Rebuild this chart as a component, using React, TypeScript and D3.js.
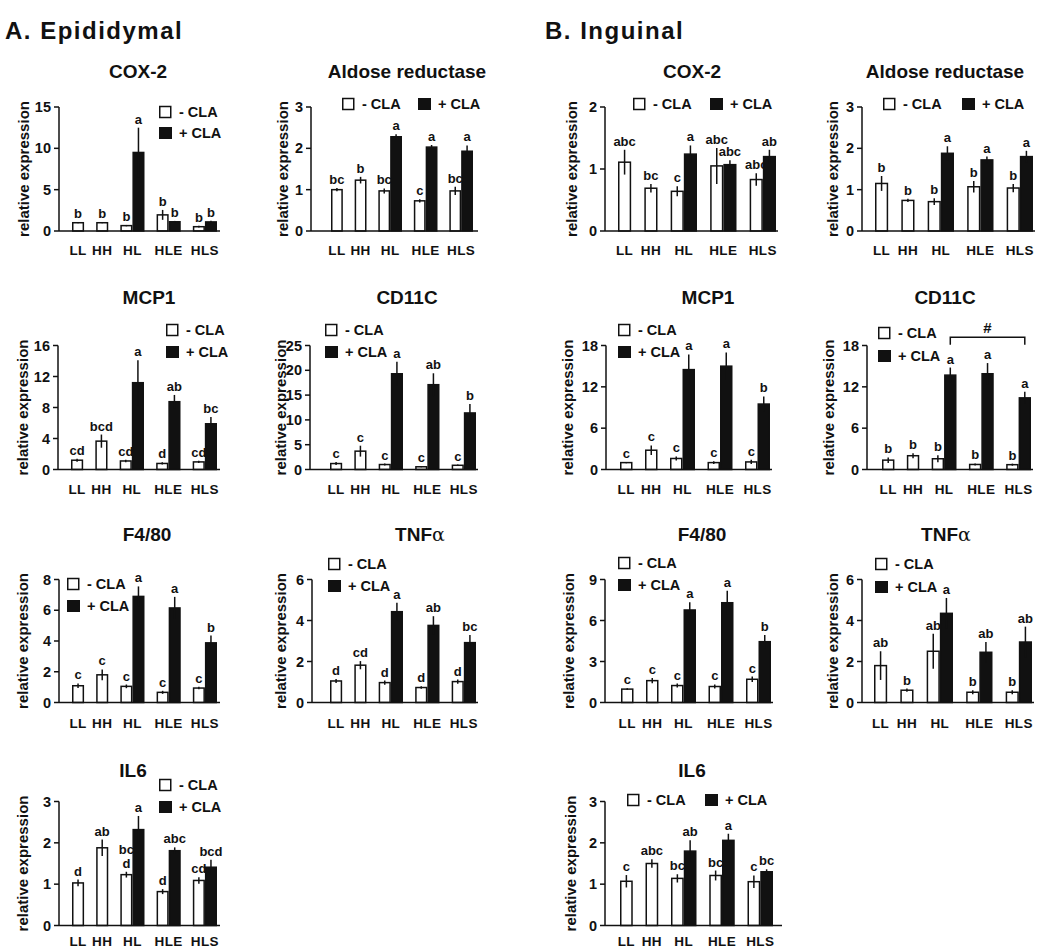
import React from "react";
import * as d3 from "d3";

// ---------------- DATA ----------------
const GROUPS = ["LL", "HH", "HL", "HLE", "HLS"];
const SLOTS = ["LL-", "g1", "HH-", "g2", "HL-", "HL+", "g3", "HLE-", "HLE+", "g4", "HLS-", "HLS+"];
const LEGEND_LABELS = ["- CLA", "+ CLA"];
const Y_LABEL = "relative expression";

// A. Epididymal
const epiCOX2_minus = [1.0, 1.0, 0.65, 1.95, 0.52];
const epiCOX2_minusErr = [0.06, 0.06, 0.08, 0.6, 0.1];
const epiCOX2_plus = [null, null, 9.5, 1.12, 1.1];
const epiCOX2_plusErr = [0, 0, 3.0, 0.1, 0.15];
const epiCOX2_letters = ["b", "b", "b", "b", "b"];
const epiCOX2_plusLetters = ["", "", "a", "b", "b"];
const epiCOX2_ticks = [0, 5, 10, 15];

const epiAR_minus = [1.0, 1.23, 0.97, 0.73, 0.97];
const epiAR_minusErr = [0.04, 0.08, 0.06, 0.04, 0.1];
const epiAR_plus = [null, null, 2.28, 2.03, 1.93];
const epiAR_plusErr = [0, 0, 0.06, 0.05, 0.14];
const epiAR_letters = ["bc", "b", "bc", "c", "bc"];
const epiAR_plusLetters = ["", "", "a", "a", "a"];
const epiAR_ticks = [0, 1, 2, 3];

const epiMCP1_minus = [1.2, 3.66, 1.1, 0.78, 0.98];
const epiMCP1_minusErr = [0.2, 0.85, 0.15, 0.15, 0.15];
const epiMCP1_plus = [null, null, 11.2, 8.75, 5.9];
const epiMCP1_plusErr = [0, 0, 2.9, 0.87, 0.86];
const epiMCP1_letters = ["cd", "bcd", "cd", "d", "cd"];
const epiMCP1_plusLetters = ["", "", "a", "ab", "bc"];
const epiMCP1_ticks = [0, 4, 8, 12, 16];

const epiCD11C_minus = [1.2, 3.7, 1.0, 0.55, 0.85];
const epiCD11C_minusErr = [0.3, 1.1, 0.2, 0.1, 0.15];
const epiCD11C_plus = [null, null, 19.3, 17.1, 11.4];
const epiCD11C_plusErr = [0, 0, 2.4, 2.3, 1.8];
const epiCD11C_letters = ["c", "c", "c", "c", "c"];
const epiCD11C_plusLetters = ["", "", "a", "ab", "b"];
const epiCD11C_ticks = [0, 5, 10, 15, 20, 25];

const epiF480_minus = [1.09, 1.8, 1.05, 0.66, 0.94];
const epiF480_minusErr = [0.15, 0.35, 0.12, 0.1, 0.08];
const epiF480_plus = [null, null, 6.9, 6.15, 3.88];
const epiF480_plusErr = [0, 0, 0.65, 0.72, 0.47];
const epiF480_letters = ["c", "c", "c", "c", "c"];
const epiF480_plusLetters = ["", "", "a", "a", "b"];
const epiF480_ticks = [0, 2, 4, 6, 8];

const epiTNF_minus = [1.05, 1.82, 0.97, 0.73, 1.02];
const epiTNF_minusErr = [0.1, 0.2, 0.1, 0.06, 0.1];
const epiTNF_plus = [null, null, 4.43, 3.76, 2.92];
const epiTNF_plusErr = [0, 0, 0.44, 0.45, 0.37];
const epiTNF_letters = ["d", "cd", "d", "d", "d"];
const epiTNF_plusLetters = ["", "", "a", "ab", "bc"];
const epiTNF_ticks = [0, 2, 4, 6];

const epiIL6_minus = [1.03, 1.88, 1.23, 0.82, 1.09];
const epiIL6_minusErr = [0.08, 0.2, 0.07, 0.06, 0.08];
const epiIL6_plus = [null, null, 2.32, 1.81, 1.41];
const epiIL6_plusErr = [0, 0, 0.33, 0.08, 0.18];
const epiIL6_letters = ["d", "ab", "bc\nd", "d", "cd"];
const epiIL6_plusLetters = ["", "", "a", "abc", "bcd"];
const epiIL6_ticks = [0, 1, 2, 3];

// B. Inguinal
const ingCOX2_minus = [1.11, 0.69, 0.64, 1.05, 0.83];
const ingCOX2_minusErr = [0.2, 0.07, 0.08, 0.29, 0.1];
const ingCOX2_plus = [null, null, 1.24, 1.07, 1.2];
const ingCOX2_plusErr = [0, 0, 0.14, 0.07, 0.11];
const ingCOX2_letters = ["abc", "bc", "c", "abc", "abc"];
const ingCOX2_plusLetters = ["", "", "a", "abc", "ab"];
const ingCOX2_ticks = [0, 1, 2];

const ingAR_minus = [1.15, 0.74, 0.71, 1.07, 1.04];
const ingAR_minusErr = [0.18, 0.04, 0.08, 0.14, 0.1];
const ingAR_plus = [null, null, 1.88, 1.72, 1.8];
const ingAR_plusErr = [0, 0, 0.17, 0.08, 0.14];
const ingAR_letters = ["b", "b", "b", "b", "b"];
const ingAR_plusLetters = ["", "", "a", "a", "a"];
const ingAR_ticks = [0, 1, 2, 3];

const ingMCP1_minus = [1.0, 2.8, 1.6, 1.0, 1.1];
const ingMCP1_minusErr = [0.1, 0.7, 0.3, 0.2, 0.3];
const ingMCP1_plus = [null, null, 14.5, 15.0, 9.5];
const ingMCP1_plusErr = [0, 0, 2.2, 2.0, 1.1];
const ingMCP1_letters = ["c", "c", "c", "c", "c"];
const ingMCP1_plusLetters = ["", "", "a", "a", "b"];
const ingMCP1_ticks = [0, 6, 12, 18];

const ingCD11C_minus = [1.36, 2.0, 1.56, 0.73, 0.7];
const ingCD11C_minusErr = [0.4, 0.35, 0.5, 0.15, 0.15];
const ingCD11C_plus = [null, null, 13.7, 13.9, 10.4];
const ingCD11C_plusErr = [0, 0, 1.1, 1.55, 0.9];
const ingCD11C_letters = ["b", "b", "b", "b", "b"];
const ingCD11C_plusLetters = ["", "", "a", "a", "a"];
const ingCD11C_ticks = [0, 6, 12, 18];

const ingF480_minus = [0.98, 1.6, 1.24, 1.17, 1.7];
const ingF480_minusErr = [0.06, 0.2, 0.15, 0.15, 0.2];
const ingF480_plus = [null, null, 6.77, 7.3, 4.45];
const ingF480_plusErr = [0, 0, 0.56, 0.88, 0.49];
const ingF480_letters = ["c", "c", "c", "c", "c"];
const ingF480_plusLetters = ["", "", "a", "a", "b"];
const ingF480_ticks = [0, 3, 6, 9];

const ingTNF_minus = [1.8, 0.6, 2.5, 0.5, 0.5];
const ingTNF_minusErr = [0.7, 0.08, 0.85, 0.1, 0.1];
const ingTNF_plus = [null, null, 4.35, 2.45, 2.95];
const ingTNF_plusErr = [0, 0, 0.75, 0.5, 0.75];
const ingTNF_letters = ["ab", "b", "ab", "b", "b"];
const ingTNF_plusLetters = ["", "", "a", "ab", "ab"];
const ingTNF_ticks = [0, 2, 4, 6];

const ingIL6_minus = [1.07, 1.5, 1.14, 1.21, 1.06];
const ingIL6_minusErr = [0.15, 0.1, 0.1, 0.12, 0.15];
const ingIL6_plus = [null, null, 1.8, 2.06, 1.3];
const ingIL6_plusErr = [0, 0, 0.26, 0.16, 0.06];
const ingIL6_letters = ["c", "abc", "bc", "bc", "c"];
const ingIL6_plusLetters = ["", "", "ab", "a", "bc"];
const ingIL6_ticks = [0, 1, 2, 3];

// ---------------- LAYOUT ----------------
const ROWS = [
  { y0: 231, yTop: 107, titleY: 78, catDy: 24 },
  { y0: 469.5, yTop: 345.5, titleY: 304, catDy: 24 },
  { y0: 702.5, yTop: 579.5, titleY: 541, catDy: 25 },
  { y0: 925.5, yTop: 801.5, titleY: 777, catDy: 20.5 },
];

const FONT = "'Liberation Sans', Arial, Helvetica, sans-serif";
const INK = "#111";

type Panel = {
  title: string;
  greek?: string;
  minus: number[];
  minusErr: number[];
  plus: (number | null)[];
  plusErr: number[];
  letters: string[];
  plusLetters: string[];
  ticks: number[];
  row: number;
  axisX: number;
  labelX: number;
  titleX: number;
  bars: [number, number];
  axisEnd: number;
  legend: { x: number; y: number; x2: number; y2: number };
  bracket?: { from: string; to: string; y: number; yTick: number; label: string };
};

const PANELS: Panel[] = [
  { title: "COX-2", minus: epiCOX2_minus, minusErr: epiCOX2_minusErr, plus: epiCOX2_plus, plusErr: epiCOX2_plusErr, letters: epiCOX2_letters, plusLetters: epiCOX2_plusLetters, ticks: epiCOX2_ticks,
    row: 0, axisX: 59, labelX: 23, titleX: 138, bars: [72, 217], axisEnd: 220, legend: { x: 159, y: 112, x2: 159, y2: 133 } },
  { title: "Aldose reductase", minus: epiAR_minus, minusErr: epiAR_minusErr, plus: epiAR_plus, plusErr: epiAR_plusErr, letters: epiAR_letters, plusLetters: epiAR_plusLetters, ticks: epiAR_ticks,
    row: 0, axisX: 311, labelX: 282, titleX: 407, bars: [331, 473], axisEnd: 478, legend: { x: 342, y: 104, x2: 418, y2: 104 } },
  { title: "COX-2", minus: ingCOX2_minus, minusErr: ingCOX2_minusErr, plus: ingCOX2_plus, plusErr: ingCOX2_plusErr, letters: ingCOX2_letters, plusLetters: ingCOX2_plusLetters, ticks: ingCOX2_ticks,
    row: 0, axisX: 605, labelX: 571, titleX: 692, bars: [618, 776], axisEnd: 778, legend: { x: 633, y: 104, x2: 710, y2: 104 } },
  { title: "Aldose reductase", minus: ingAR_minus, minusErr: ingAR_minusErr, plus: ingAR_plus, plusErr: ingAR_plusErr, letters: ingAR_letters, plusLetters: ingAR_plusLetters, ticks: ingAR_ticks,
    row: 0, axisX: 862, labelX: 832, titleX: 945, bars: [875, 1033], axisEnd: 1035, legend: { x: 883, y: 104, x2: 962, y2: 104 } },

  { title: "MCP1", minus: epiMCP1_minus, minusErr: epiMCP1_minusErr, plus: epiMCP1_plus, plusErr: epiMCP1_plusErr, letters: epiMCP1_letters, plusLetters: epiMCP1_plusLetters, ticks: epiMCP1_ticks,
    row: 1, axisX: 58, labelX: 22, titleX: 149, bars: [71, 217], axisEnd: 220, legend: { x: 166, y: 330, x2: 166, y2: 352 } },
  { title: "CD11C", minus: epiCD11C_minus, minusErr: epiCD11C_minusErr, plus: epiCD11C_plus, plusErr: epiCD11C_plusErr, letters: epiCD11C_letters, plusLetters: epiCD11C_plusLetters, ticks: epiCD11C_ticks,
    row: 1, axisX: 310, labelX: 280, titleX: 407, bars: [330, 476], axisEnd: 478, legend: { x: 325, y: 330, x2: 325, y2: 352 } },
  { title: "MCP1", minus: ingMCP1_minus, minusErr: ingMCP1_minusErr, plus: ingMCP1_plus, plusErr: ingMCP1_plusErr, letters: ingMCP1_letters, plusLetters: ingMCP1_plusLetters, ticks: ingMCP1_ticks,
    row: 1, axisX: 606, labelX: 567, titleX: 708, bars: [620, 770], axisEnd: 772, legend: { x: 618, y: 330, x2: 618, y2: 352 } },
  { title: "CD11C", minus: ingCD11C_minus, minusErr: ingCD11C_minusErr, plus: ingCD11C_plus, plusErr: ingCD11C_plusErr, letters: ingCD11C_letters, plusLetters: ingCD11C_plusLetters, ticks: ingCD11C_ticks,
    row: 1, axisX: 867, labelX: 828, titleX: 945, bars: [882, 1031], axisEnd: 1033, legend: { x: 878, y: 333, x2: 878, y2: 356 },
    bracket: { from: "HL+", to: "HLS+", y: 19.2, yTick: 18.1, label: "#" } },

  { title: "F4/80", minus: epiF480_minus, minusErr: epiF480_minusErr, plus: epiF480_plus, plusErr: epiF480_plusErr, letters: epiF480_letters, plusLetters: epiF480_plusLetters, ticks: epiF480_ticks,
    row: 2, axisX: 59, labelX: 22, titleX: 147, bars: [72, 217], axisEnd: 220, legend: { x: 67, y: 584, x2: 67, y2: 606 } },
  { title: "TNF", greek: "α", minus: epiTNF_minus, minusErr: epiTNF_minusErr, plus: epiTNF_plus, plusErr: epiTNF_plusErr, letters: epiTNF_letters, plusLetters: epiTNF_plusLetters, ticks: epiTNF_ticks,
    row: 2, axisX: 312, labelX: 280, titleX: 420, bars: [330, 476], axisEnd: 478, legend: { x: 328, y: 564, x2: 328, y2: 586 } },
  { title: "F4/80", minus: ingF480_minus, minusErr: ingF480_minusErr, plus: ingF480_plus, plusErr: ingF480_plusErr, letters: ingF480_letters, plusLetters: ingF480_plusLetters, ticks: ingF480_ticks,
    row: 2, axisX: 605, labelX: 568, titleX: 702, bars: [621, 771], axisEnd: 773, legend: { x: 618, y: 563, x2: 618, y2: 585 } },
  { title: "TNF", greek: "α", minus: ingTNF_minus, minusErr: ingTNF_minusErr, plus: ingTNF_plus, plusErr: ingTNF_plusErr, letters: ingTNF_letters, plusLetters: ingTNF_plusLetters, ticks: ingTNF_ticks,
    row: 2, axisX: 862, labelX: 832, titleX: 946, bars: [874, 1032], axisEnd: 1034, legend: { x: 875, y: 564, x2: 875, y2: 587 } },

  { title: "IL6", minus: epiIL6_minus, minusErr: epiIL6_minusErr, plus: epiIL6_plus, plusErr: epiIL6_plusErr, letters: epiIL6_letters, plusLetters: epiIL6_plusLetters, ticks: epiIL6_ticks,
    row: 3, axisX: 59, labelX: 22, titleX: 133, bars: [72, 217], axisEnd: 220, legend: { x: 159, y: 785, x2: 159, y2: 807 } },
  { title: "IL6", minus: ingIL6_minus, minusErr: ingIL6_minusErr, plus: ingIL6_plus, plusErr: ingIL6_plusErr, letters: ingIL6_letters, plusLetters: ingIL6_plusLetters, ticks: ingIL6_ticks,
    row: 3, axisX: 605, labelX: 570, titleX: 692, bars: [620, 773], axisEnd: 782, legend: { x: 627, y: 800, x2: 705, y2: 800 } },
];

function slotCenter(x: d3.ScaleBand<string>, g: string, i: number) {
  if (i < 2) return (x(g + "-") as number) + x.bandwidth() / 2;
  return x(g + "+") as number;
}

function Letters({ text, x, y }: { text: string; x: number; y: number }) {
  const lines = text.split("\n");
  return (
    <g>
      {lines.map((l, k) => (
        <text key={k} x={x} y={y - (lines.length - 1 - k) * 14} textAnchor="middle"
          fontFamily={FONT} fontWeight="bold" fontSize={13} fill={INK}>{l}</text>
      ))}
    </g>
  );
}

function PanelChart({ p }: { p: Panel }) {
  const row = ROWS[p.row];
  const yMax = p.ticks[p.ticks.length - 1];
  const y = d3.scaleLinear().domain([0, yMax]).range([row.y0, row.yTop]);
  const x = d3.scaleBand<string>().domain(SLOTS).range(p.bars).padding(0);
  const bw = x.bandwidth();
  const midY = (row.y0 + row.yTop) / 2;

  const bars: { key: string; v: number; e: number; fill: string; letter: string }[] = [];
  GROUPS.forEach((g, i) => {
    bars.push({ key: g + "-", v: p.minus[i], e: p.minusErr[i], fill: "#fff", letter: p.letters[i] });
    const pv = p.plus[i];
    if (pv != null) bars.push({ key: g + "+", v: pv, e: p.plusErr[i], fill: INK, letter: p.plusLetters[i] });
  });

  const leg = p.legend;
  return (
    <g>
      <text x={p.titleX} y={row.titleY} textAnchor="middle" fontFamily={FONT} fontWeight="bold" fontSize={19} fill={INK}>
        {p.title}
        {p.greek ? <tspan fontFamily="'DejaVu Serif', 'Liberation Serif', serif" fontWeight="normal" fontSize={19}>{p.greek}</tspan> : null}
      </text>
      <text transform={`translate(${p.labelX},${midY}) rotate(-90)`} textAnchor="middle" dominantBaseline="central"
        fontFamily={FONT} fontWeight="bold" fontSize={15} fill={INK}>{Y_LABEL}</text>
      {bars.map((b) => (
        <rect key={b.key} x={(x(b.key) as number) + 0.75} y={y(b.v)} width={bw - 1.5} height={row.y0 - y(b.v)}
          fill={b.fill} stroke={INK} strokeWidth={1.5} />
      ))}
      {bars.map((b) => (
        <line key={"e" + b.key} x1={(x(b.key) as number) + bw / 2} x2={(x(b.key) as number) + bw / 2}
          y1={y(Math.max(0, b.v - b.e))} y2={y(b.v + b.e)} stroke={INK} strokeWidth={1.5} />
      ))}
      {bars.map((b) => b.letter ? (
        <Letters key={"l" + b.key} text={b.letter} x={(x(b.key) as number) + bw / 2} y={y(b.v + b.e) - 4} />
      ) : null)}
      <line x1={p.axisX} x2={p.axisX} y1={row.y0} y2={row.yTop} stroke={INK} strokeWidth={1.5} />
      <line x1={p.axisX} x2={p.axisEnd} y1={row.y0} y2={row.y0} stroke={INK} strokeWidth={1.5} />
      {p.ticks.map((t) => (
        <g key={"t" + t}>
          <line x1={p.axisX - 5} x2={p.axisX} y1={y(t)} y2={y(t)} stroke={INK} strokeWidth={1.5} />
          <text x={p.axisX - 8} y={y(t)} textAnchor="end" dominantBaseline="central"
            fontFamily={FONT} fontWeight="bold" fontSize={14.5} fill={INK}>{t}</text>
        </g>
      ))}
      {GROUPS.map((g, i) => (
        <text key={"c" + g} x={slotCenter(x, g, i)} y={row.y0 + row.catDy} textAnchor="middle"
          fontFamily={FONT} fontWeight="bold" fontSize={13.5} letterSpacing={0.4} fill={INK}>{g}</text>
      ))}
      <rect x={leg.x + 0.75} y={leg.y - 5.5} width={11} height={11} fill="#fff" stroke={INK} strokeWidth={1.5} />
      <text x={leg.x + 20} y={leg.y} dominantBaseline="central" fontFamily={FONT} fontWeight="bold" fontSize={14.5} fill={INK}>{LEGEND_LABELS[0]}</text>
      <rect x={leg.x2} y={leg.y2 - 6} width={13} height={12} fill={INK} />
      <text x={leg.x2 + 20} y={leg.y2} dominantBaseline="central" fontFamily={FONT} fontWeight="bold" fontSize={14.5} fill={INK}>{LEGEND_LABELS[1]}</text>
      {p.bracket ? (() => {
        const bx1 = (x(p.bracket.from) as number) + bw / 2;
        const bx2 = (x(p.bracket.to) as number) + bw / 2;
        const by = y(p.bracket.y);
        const bt = y(p.bracket.yTick);
        return (
          <g>
            <path d={`M${bx1},${bt}V${by}H${bx2}V${bt}`} fill="none" stroke={INK} strokeWidth={1.5} />
            <text x={(bx1 + bx2) / 2} y={by - 4} textAnchor="middle" fontFamily={FONT} fontWeight="bold" fontSize={15} fill={INK}>{p.bracket.label}</text>
          </g>
        );
      })() : null}
    </g>
  );
}

export default function App() {
  return (
    <svg width={1050} height={948} viewBox="0 0 1050 948"
      style={{ position: "absolute", left: 0, top: 0, background: "#fff" }}>
      <rect width={1050} height={948} fill="#fff" />
      <text x={5} y={39} fontFamily={FONT} fontWeight="bold" fontSize={24} letterSpacing={1.5} fill={INK}>A. Epididymal</text>
      <text x={545} y={39} fontFamily={FONT} fontWeight="bold" fontSize={24} letterSpacing={1.5} fill={INK}>B. Inguinal</text>
      {PANELS.map((p, i) => <PanelChart key={i} p={p} />)}
    </svg>
  );
}
